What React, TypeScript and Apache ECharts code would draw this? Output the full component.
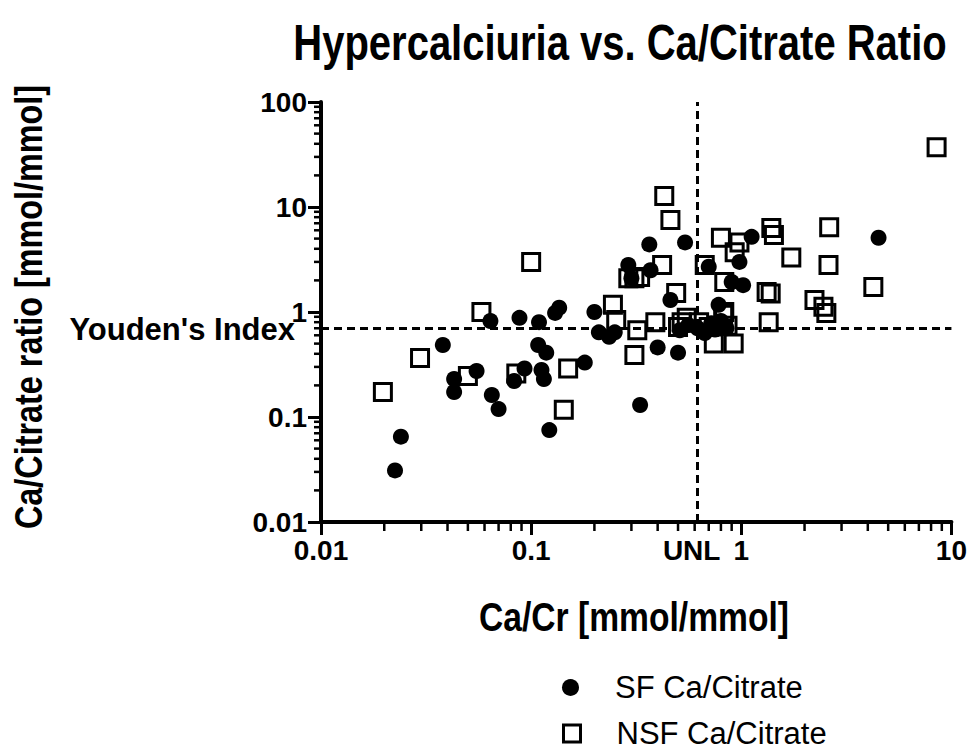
import React, { useEffect, useRef } from 'react';
import * as echarts from 'echarts';

const TITLE = 'Hypercalciuria vs. Ca/Citrate Ratio';
const X_NAME = 'Ca/Cr [mmol/mmol]';
const Y_NAME = 'Ca/Citrate ratio [mmol/mmol]';
const SF_NAME = 'SF Ca/Citrate';
const NSF_NAME = 'NSF Ca/Citrate';
const X_TICK_LABELS = ['0.01', '0.1', '1', '10'];
const Y_TICK_LABELS = ['0.01', '0.1', '1', '10', '100'];
const UNL_LABEL = 'UNL';
const YOUDEN_LABEL = "Youden's Index";
const UNL = 0.62;
const YOUDEN = 0.7;

// SF (stone formers): Ca/Cr vs Ca/Citrate
const SF_CA_CR = [
  0.0225, 0.024, 0.038, 0.043, 0.043, 0.055, 0.064, 0.065, 0.07, 0.083,
  0.088, 0.093, 0.109, 0.108, 0.112, 0.115, 0.118, 0.122, 0.13, 0.136,
  0.18, 0.2, 0.21, 0.235, 0.25, 0.29, 0.3, 0.33, 0.365, 0.37,
  0.4, 0.46, 0.5, 0.51, 0.54, 0.7, 0.56, 0.62, 0.67, 0.72,
  0.78, 0.75, 0.85, 0.8, 0.9, 0.98, 1.02, 1.12, 4.5,
];
const SF_CA_CIT = [
  0.031, 0.065, 0.485, 0.23, 0.173, 0.274, 0.82, 0.162, 0.119, 0.22,
  0.88, 0.29, 0.8, 0.485, 0.28, 0.23, 0.41, 0.075, 0.98, 1.1,
  0.33, 1.0, 0.64, 0.58, 0.64, 2.8, 2.1, 0.13, 4.4, 2.5,
  0.46, 1.3, 0.41, 0.67, 4.6, 2.7, 0.75, 0.7, 0.63, 0.78,
  1.17, 0.68, 0.7, 0.82, 1.93, 3.0, 1.8, 5.2, 5.1,
];
// NSF (non stone formers)
const NSF_CA_CR = [
  0.0197, 0.0296, 0.05, 0.058, 0.085, 0.1, 0.143, 0.15, 0.245, 0.254,
  0.29, 0.31, 0.31, 0.32, 0.33, 0.39, 0.42, 0.43, 0.46, 0.49,
  0.52, 0.67, 0.8, 0.83, 0.83, 0.93, 0.98, 0.74, 0.92, 0.55,
  0.5, 0.63, 0.7, 0.82, 0.86, 1.32, 1.38, 1.35, 1.39, 1.43,
  1.73, 2.23, 2.46, 2.54, 2.62, 2.6, 4.25, 8.5,
];
const NSF_CA_CIT = [
  0.173, 0.365, 0.246, 1.0, 0.26, 3.0, 0.117, 0.29, 1.17, 0.84,
  2.1, 2.1, 0.39, 0.67, 2.15, 0.8, 2.8, 12.7, 7.5, 1.52,
  0.8, 2.8, 5.1, 1.93, 1.0, 3.7, 4.6, 0.5, 0.5, 0.88,
  0.72, 0.8, 0.72, 0.94, 0.74, 1.55, 1.5, 0.8, 6.3, 5.4,
  3.3, 1.3, 1.12, 0.98, 6.4, 2.8, 1.73, 37,
];

const X_MIN = 0.01;
const X_MAX = 10;
const Y_MIN = 0.01;
const Y_MAX = 100;

const FONT = '"Liberation Sans", Arial, Helvetica, sans-serif';

function minorTicks(min: number, max: number): number[] {
  const out: number[] = [];
  const d0 = Math.round(Math.log10(min));
  const d1 = Math.round(Math.log10(max));
  for (let d = d0; d < d1; d++) {
    for (let k = 2; k <= 9; k++) out.push(k * Math.pow(10, d));
  }
  return out;
}

function labelFor(labels: string[], min: number) {
  return (v: number) => {
    const idx = Math.round(Math.log10(v) - Math.log10(min));
    return labels[idx] ?? '';
  };
}

export default function App() {
  const ref = useRef<HTMLDivElement>(null);

  useEffect(() => {
    if (!ref.current) return;
    const chart = echarts.init(ref.current, undefined, { renderer: 'svg' });

    const sfData = SF_CA_CR.map((x, i) => [x, SF_CA_CIT[i]]);
    const nsfData = NSF_CA_CR.map((x, i) => [x, NSF_CA_CIT[i]]);
    const xMinor = minorTicks(X_MIN, X_MAX).map((v) => [v, Y_MIN]);
    const yMinor = minorTicks(Y_MIN, Y_MAX).map((v) => [X_MIN, v]);

    const axisCommon = {
      type: 'log' as const,
      logBase: 10,
      splitLine: { show: false },
      axisLine: { show: true, onZero: false, lineStyle: { color: '#000', width: 4 } },
      axisTick: { show: true, length: 13, lineStyle: { color: '#000', width: 3 } },
    };

    const legendCommon = {
      orient: 'vertical' as const,
      left: 557,
      itemWidth: 17,
      itemHeight: 17,
      selectedMode: false,
      textStyle: { fontSize: 31, fontFamily: FONT, color: '#000', padding: [0, 0, 0, 31] },
    };

    chart.setOption({
      animation: false,
      backgroundColor: '#fff',
      grid: { left: 321, top: 102, width: 631, height: 420, containLabel: false },
      xAxis: {
        ...axisCommon,
        min: X_MIN,
        max: X_MAX,
        axisLabel: {
          formatter: labelFor(X_TICK_LABELS, X_MIN),
          fontSize: 28,
          fontWeight: 'bold',
          fontFamily: FONT,
          color: '#000',
          margin: 14,
        },
      },
      yAxis: {
        ...axisCommon,
        min: Y_MIN,
        max: Y_MAX,
        axisLabel: {
          formatter: labelFor(Y_TICK_LABELS, Y_MIN),
          fontSize: 28,
          fontWeight: 'bold',
          fontFamily: FONT,
          color: '#000',
          margin: 14,
        },
      },
      legend: [
        {
          ...legendCommon,
          top: 667,
          data: [{ name: SF_NAME, icon: 'circle' }],
        },
        {
          ...legendCommon,
          top: 713,
          data: [
            {
              name: NSF_NAME,
              icon: 'rect',
              itemStyle: { color: 'rgba(0,0,0,0)', borderColor: '#000', borderWidth: 3 },
            },
          ],
        },
      ],
      series: [
        {
          name: SF_NAME,
          type: 'scatter',
          symbol: 'circle',
          symbolSize: 16,
          itemStyle: { color: '#000', opacity: 1 },
          emphasis: { disabled: true },
          z: 3,
          data: sfData,
          markLine: {
            silent: true,
            symbol: 'none',
            label: { show: false },
            lineStyle: { color: '#000', width: 3, type: [8, 5] },
            data: [{ xAxis: UNL }, { yAxis: YOUDEN }],
          },
        },
        {
          name: NSF_NAME,
          type: 'scatter',
          symbol: 'rect',
          symbolSize: 17,
          itemStyle: { color: 'rgba(0,0,0,0)', borderColor: '#000', borderWidth: 3, opacity: 1 },
          emphasis: { disabled: true },
          z: 4,
          data: nsfData,
        },
        {
          type: 'custom',
          silent: true,
          clip: false,
          z: 5,
          data: xMinor,
          renderItem: (_p: any, api: any) => {
            const p = api.coord([api.value(0), api.value(1)]);
            return {
              type: 'line',
              shape: { x1: p[0], y1: p[1], x2: p[0], y2: p[1] + 9 },
              style: { stroke: '#000', lineWidth: 2.5 },
            };
          },
        },
        {
          type: 'custom',
          silent: true,
          clip: false,
          z: 5,
          data: yMinor,
          renderItem: (_p: any, api: any) => {
            const p = api.coord([api.value(0), api.value(1)]);
            return {
              type: 'line',
              shape: { x1: p[0], y1: p[1], x2: p[0] - 7, y2: p[1] },
              style: { stroke: '#000', lineWidth: 2.5 },
            };
          },
        },
      ],
    });

    const unlPx = chart.convertToPixel({ gridIndex: 0 }, [UNL, Y_MIN]) as number[];
    const youPx = chart.convertToPixel({ gridIndex: 0 }, [X_MIN, YOUDEN]) as number[];

    chart.setOption({
      graphic: [
        {
          type: 'text',
          x: 620,
          y: 43,
          scaleX: 0.8,
          style: {
            text: TITLE,
            fontSize: 50,
            fontWeight: 'bold',
            fontFamily: FONT,
            fill: '#000',
            textAlign: 'center',
            textVerticalAlign: 'middle',
          },
        },
        {
          type: 'text',
          x: 634,
          y: 617,
          scaleX: 0.82,
          style: {
            text: X_NAME,
            fontSize: 41,
            fontWeight: 'bold',
            fontFamily: FONT,
            fill: '#000',
            textAlign: 'center',
            textVerticalAlign: 'middle',
          },
        },
        {
          type: 'text',
          x: 29,
          y: 307,
          rotation: Math.PI / 2,
          scaleX: 0.83,
          style: {
            text: Y_NAME,
            fontSize: 39,
            fontWeight: 'bold',
            fontFamily: FONT,
            fill: '#000',
            textAlign: 'center',
            textVerticalAlign: 'middle',
          },
        },
        {
          type: 'text',
          x: youPx[0] - 26,
          y: youPx[1] + 1,
          style: {
            text: YOUDEN_LABEL,
            fontSize: 31,
            fontWeight: 'bold',
            fontFamily: FONT,
            fill: '#000',
            textAlign: 'right',
            textVerticalAlign: 'middle',
          },
        },
        {
          type: 'text',
          x: unlPx[0] - 6,
          y: unlPx[1] + 14,
          style: {
            text: UNL_LABEL,
            fontSize: 28,
            fontWeight: 'bold',
            fontFamily: FONT,
            fill: '#000',
            textAlign: 'center',
            textVerticalAlign: 'top',
          },
        },
      ],
    });

    return () => chart.dispose();
  }, []);

  return (
    <div
      ref={ref}
      style={{ position: 'fixed', left: 0, top: 0, width: 970, height: 751, background: '#fff' }}
    />
  );
}
